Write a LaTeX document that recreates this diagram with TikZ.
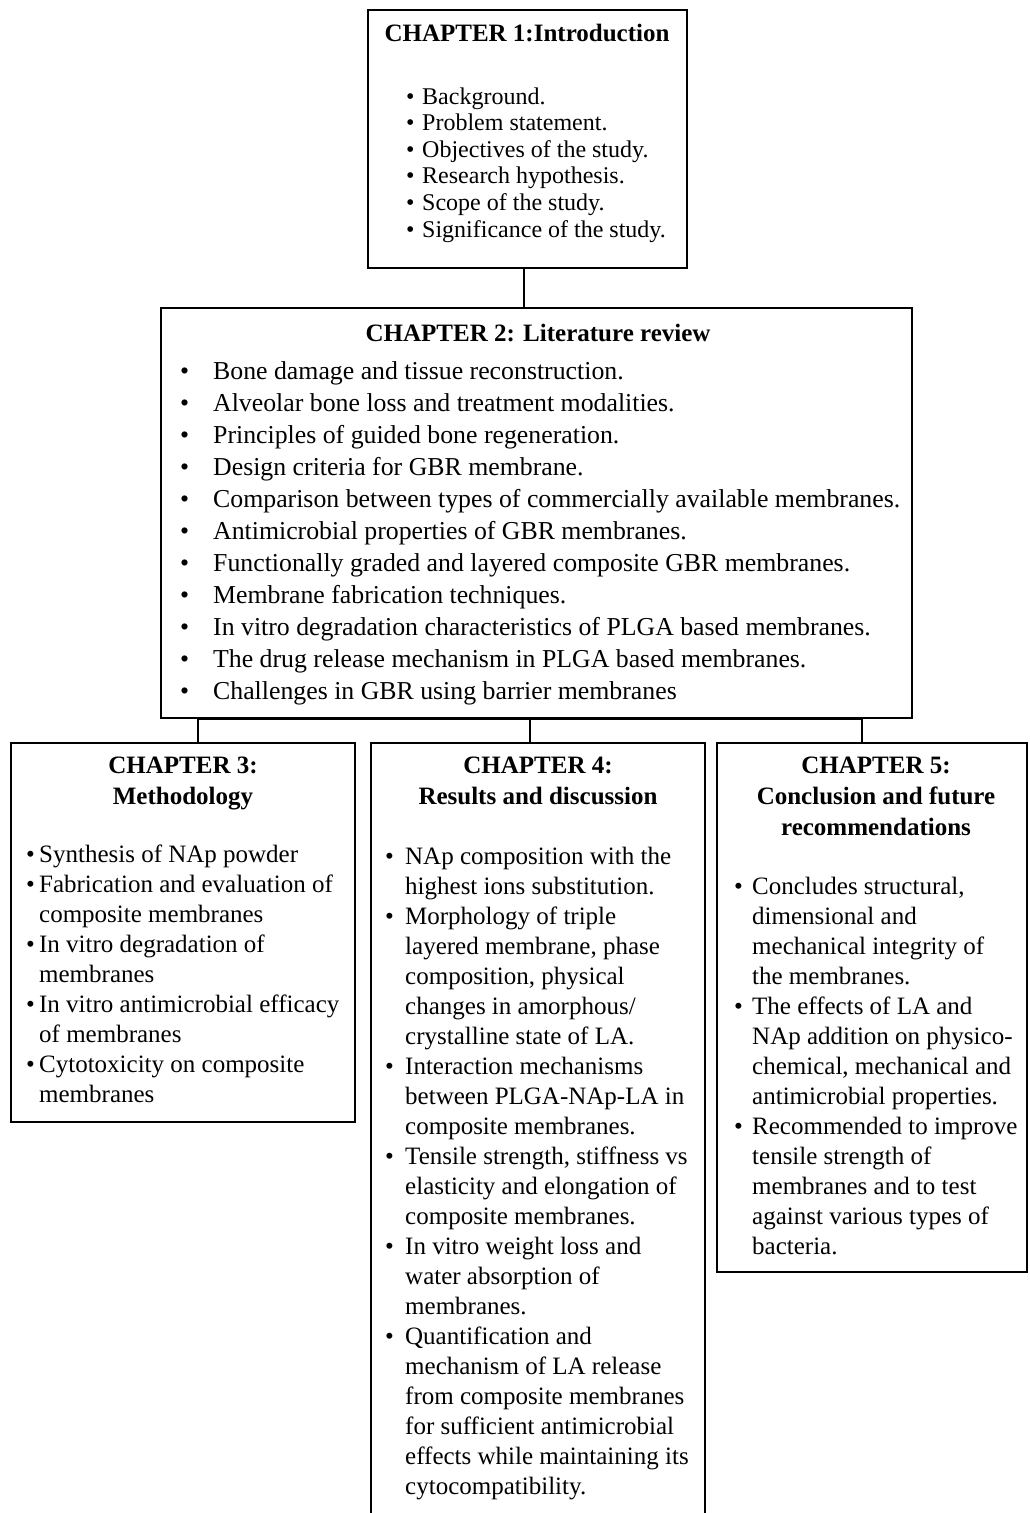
\documentclass[tikz,border=0pt]{standalone}
\usepackage{fontspec}
\usepackage{array}
\setmainfont{Liberation Serif}
\begin{document}
\begin{tikzpicture}[x=1pt,y=-1pt,
  box/.style={draw, line width=1.5pt, rectangle, inner sep=0pt, outer sep=0pt, anchor=north west},
  conn/.style={line width=1.5pt},
  ttl/.style={font=\fontsize{25}{31}\selectfont\bfseries, anchor=base, inner sep=0pt},
  lst/.style={anchor=base west, inner sep=0pt}
]
\useasboundingbox (0,0) rectangle (1029,1513);
\clip (0,0) rectangle (1029,1513);

% boxes
\node[box, minimum width=319pt, minimum height=258pt] (c1) at (368,10) {};
\node[box, minimum width=751pt, minimum height=410pt] (c2) at (161,308) {};
\node[box, minimum width=344pt, minimum height=379pt] (c3) at (11,743) {};
\node[box, minimum width=334pt, minimum height=900pt] (c4) at (371,743) {};
\node[box, minimum width=310pt, minimum height=529pt] (c5) at (717,743) {};

% chapter 1
\node[ttl] (t1) at (527,41) {CHAPTER 1:Introduction};
\node[lst, font=\fontsize{24}{26.6}\selectfont] (l1) at (406,104) {%
\begin{tabular}[t]{@{}p{16pt}@{}l@{}}
\textbullet & Background.\\
\textbullet & Problem statement.\\
\textbullet & Objectives of the study.\\
\textbullet & Research hypothesis.\\
\textbullet & Scope of the study.\\
\textbullet & Significance of the study.
\end{tabular}};

% chapter 2
\node[ttl] (t2) at (538,341) {CHAPTER 2: Literature review};
\node[lst, font=\fontsize{25.8}{32}\selectfont] (l2) at (180,379) {%
\begin{tabular}[t]{@{}p{33pt}@{}l@{}}
\textbullet & Bone damage and tissue reconstruction.\\
\textbullet & Alveolar bone loss and treatment modalities.\\
\textbullet & Principles of guided bone regeneration.\\
\textbullet & Design criteria for GBR membrane.\\
\textbullet & Comparison between types of commercially available membranes.\\
\textbullet & Antimicrobial properties of GBR membranes.\\
\textbullet & Functionally graded and layered composite GBR membranes.\\
\textbullet & Membrane fabrication techniques.\\
\textbullet & In vitro degradation characteristics of PLGA based membranes.\\
\textbullet & The drug release mechanism in PLGA based membranes.\\
\textbullet & Challenges in GBR using barrier membranes
\end{tabular}};

% chapter 3
\node[ttl] (t3) at (183,773) {\begin{tabular}[t]{@{}c@{}}CHAPTER 3:\\Methodology\end{tabular}};
\node[lst, font=\fontsize{25}{30}\selectfont] (l3) at (26,862) {%
\begin{tabular}[t]{@{}p{13pt}@{}l@{}}
\textbullet & Synthesis of NAp powder\\
\textbullet & Fabrication and evaluation of\\
 & composite membranes\\
\textbullet & In vitro degradation of\\
 & membranes\\
\textbullet & In vitro antimicrobial efficacy\\
 & of membranes\\
\textbullet & Cytotoxicity on composite\\
 & membranes
\end{tabular}};

% chapter 4
\node[ttl] (t4) at (538,773) {\begin{tabular}[t]{@{}c@{}}CHAPTER 4:\\Results and discussion\end{tabular}};
\node[lst, font=\fontsize{25}{30}\selectfont] (l4) at (385,864) {%
\begin{tabular}[t]{@{}p{20pt}@{}l@{}}
\textbullet & NAp composition with the\\
 & highest ions substitution.\\
\textbullet & Morphology of triple\\
 & layered membrane, phase\\
 & composition, physical\\
 & changes in amorphous/\\
 & crystalline state of LA.\\
\textbullet & Interaction mechanisms\\
 & between PLGA-NAp-LA in\\
 & composite membranes.\\
\textbullet & Tensile strength, stiffness vs\\
 & elasticity and elongation of\\
 & composite membranes.\\
\textbullet & In vitro weight loss and\\
 & water absorption of\\
 & membranes.\\
\textbullet & Quantification and\\
 & mechanism of LA release\\
 & from composite membranes\\
 & for sufficient antimicrobial\\
 & effects while maintaining its\\
 & cytocompatibility.
\end{tabular}};

% chapter 5
\node[ttl] (t5) at (876,773) {\begin{tabular}[t]{@{}c@{}}CHAPTER 5:\\Conclusion and future\\recommendations\end{tabular}};
\node[lst, font=\fontsize{25}{30}\selectfont] (l5) at (734,894) {%
\begin{tabular}[t]{@{}p{18pt}@{}l@{}}
\textbullet & Concludes structural,\\
 & dimensional and\\
 & mechanical integrity of\\
 & the membranes.\\
\textbullet & The effects of LA and\\
 & NAp addition on physico-\\
 & chemical, mechanical and\\
 & antimicrobial properties.\\
\textbullet & Recommended to improve\\
 & tensile strength of\\
 & membranes and to test\\
 & against various types of\\
 & bacteria.
\end{tabular}};

% connectors
\coordinate (bus) at ([yshift=-1.5pt]c2.south);
\draw[conn] ([xshift=-3.5pt]c1.south) -- ([xshift=-3.5pt]c1.south |- c2.north);
\draw[conn] ([xshift=15pt]c3.north) |- ([xshift=-10pt]c5.north |- bus) -- ([xshift=-10pt]c5.north);
\draw[conn] ([xshift=-8pt]c4.north) -- ([xshift=-8pt]c4.north |- bus);
\end{tikzpicture}
\end{document}
